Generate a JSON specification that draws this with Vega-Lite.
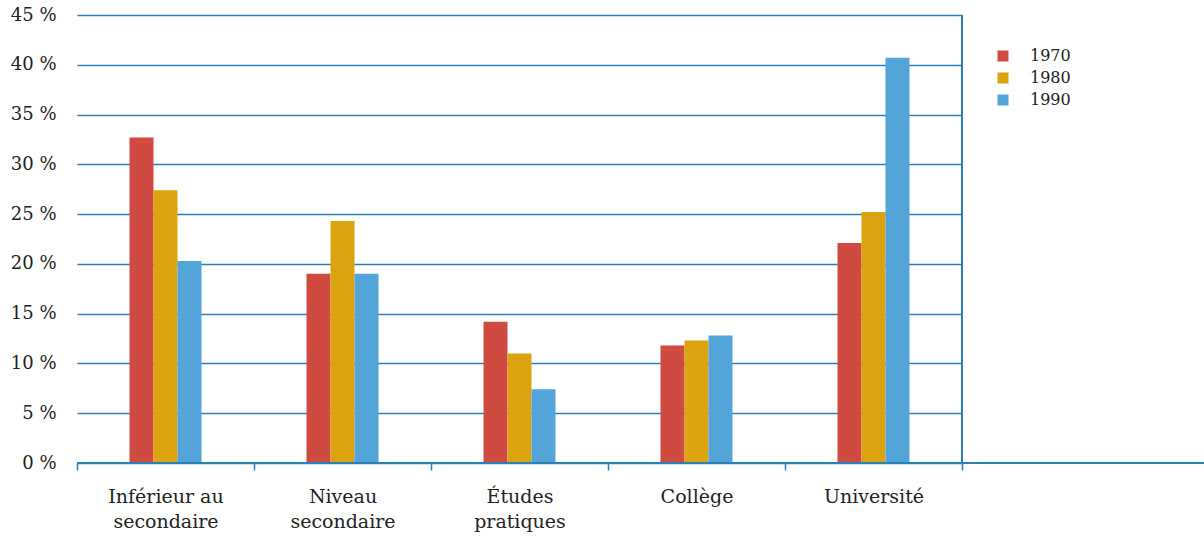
{
  "$schema": "https://vega.github.io/schema/vega-lite/v6.json",
  "autosize": {"type": "none"},
  "width": 1127,
  "height": 448,
  "padding": {"left": 77, "top": 15, "right": 0, "bottom": 73},
  "background": "white",
  "config": {
    "view": {"stroke": null},
    "font": "DejaVu Serif"
  },
  "data": {
    "values": [
      {"niveau": "Inférieur au secondaire", "annee": "1970", "pct": 32.7},
      {"niveau": "Inférieur au secondaire", "annee": "1980", "pct": 27.4},
      {"niveau": "Inférieur au secondaire", "annee": "1990", "pct": 20.3},
      {"niveau": "Niveau secondaire", "annee": "1970", "pct": 19.0},
      {"niveau": "Niveau secondaire", "annee": "1980", "pct": 24.3},
      {"niveau": "Niveau secondaire", "annee": "1990", "pct": 19.0},
      {"niveau": "Études pratiques", "annee": "1970", "pct": 14.2},
      {"niveau": "Études pratiques", "annee": "1980", "pct": 11.0},
      {"niveau": "Études pratiques", "annee": "1990", "pct": 7.4},
      {"niveau": "Collège", "annee": "1970", "pct": 11.8},
      {"niveau": "Collège", "annee": "1980", "pct": 12.3},
      {"niveau": "Collège", "annee": "1990", "pct": 12.8},
      {"niveau": "Université", "annee": "1970", "pct": 22.1},
      {"niveau": "Université", "annee": "1980", "pct": 25.2},
      {"niveau": "Université", "annee": "1990", "pct": 40.7}
    ]
  },
  "layer": [
    {
      "mark": {"type": "bar"},
      "encoding": {
        "x": {
          "field": "niveau",
          "type": "nominal",
          "sort": null,
          "scale": {"range": [0, 885], "paddingInner": 0, "paddingOuter": 0},
          "axis": {
            "title": null,
            "domain": false,
            "labelAngle": 0,
            "tickBand": "extent",
            "ticks": true,
            "tickSize": 7,
            "tickColor": "#2a80b6",
            "tickWidth": 1.5,
            "labelPadding": 17,
            "labelFont": "DejaVu Serif",
            "labelFontSize": 19,
            "labelColor": "#222222",
            "labelLineHeight": 25,
            "labelBaseline": "top",
            "labelExpr": "datum.value == 'Inférieur au secondaire' ? ['Inférieur au', 'secondaire'] : datum.value == 'Niveau secondaire' ? ['Niveau', 'secondaire'] : datum.value == 'Études pratiques' ? ['Études', 'pratiques'] : datum.value"
          }
        },
        "xOffset": {
          "field": "annee",
          "type": "nominal",
          "scale": {"range": [52.5, 124.5], "paddingInner": 0, "paddingOuter": 0}
        },
        "y": {
          "field": "pct",
          "type": "quantitative",
          "scale": {"domain": [0, 45], "nice": false},
          "axis": {
            "title": null,
            "values": [0, 5, 10, 15, 20, 25, 30, 35, 40, 45],
            "labelExpr": "datum.value + ' %'",
            "domain": false,
            "ticks": false,
            "labelPadding": 21,
            "labelFont": "DejaVu Serif",
            "labelFontSize": 18,
            "labelColor": "#222222",
            "gridColor": "#2a80b6",
            "gridWidth": 1.5,
            "gridOpacity": 1
          }
        },
        "color": {
          "field": "annee",
          "type": "nominal",
          "scale": {"domain": ["1970", "1980", "1990"], "range": ["#cf4a40", "#dba30f", "#52a4d9"]},
          "legend": {
            "title": null,
            "orient": "none",
            "legendX": 918,
            "legendY": 33,
            "symbolType": "square",
            "symbolSize": 121,
            "symbolStrokeWidth": 0,
            "labelFont": "DejaVu Serif",
            "labelFontSize": 16,
            "labelColor": "#222222",
            "labelOffset": 19,
            "rowPadding": 6
          }
        }
      }
    },
    {
      "mark": {"type": "rule", "color": "#2a80b6", "strokeWidth": 1.5},
      "encoding": {
        "y": {"datum": 0, "type": "quantitative"}
      }
    },
    {
      "mark": {"type": "rule", "color": "#2a80b6", "strokeWidth": 1.5},
      "encoding": {
        "x": {"datum": "Université", "type": "nominal", "bandPosition": 1}
      }
    }
  ]
}
